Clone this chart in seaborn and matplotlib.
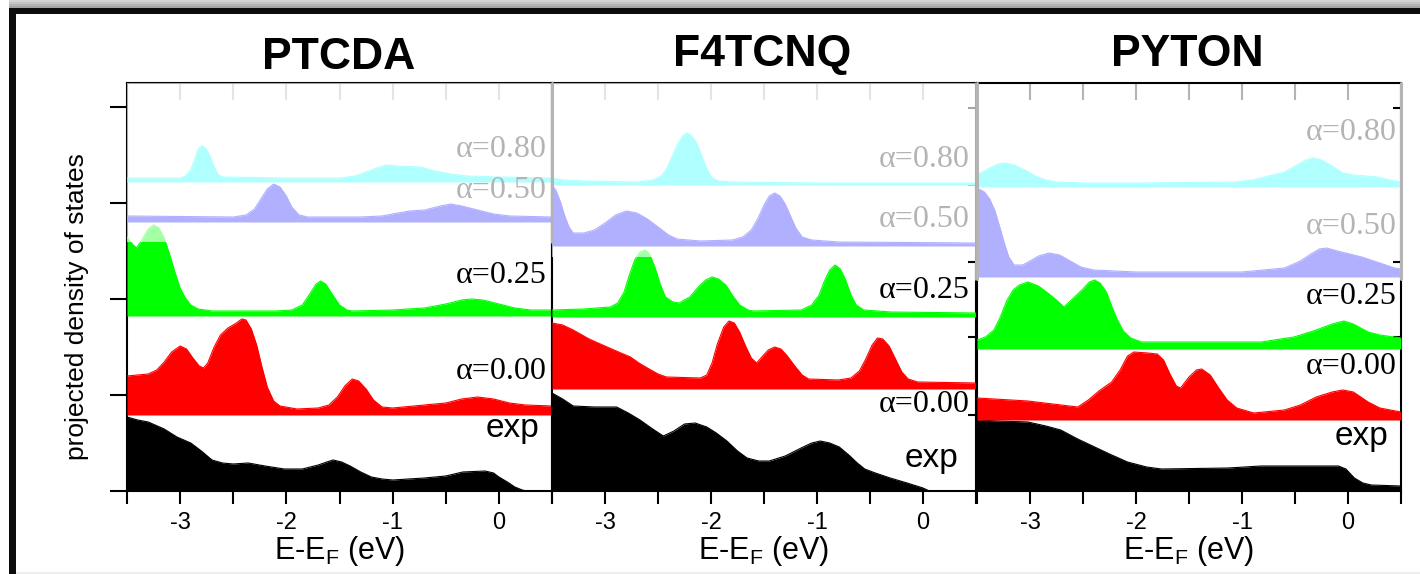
import numpy as np
import pandas as pd
import seaborn as sns
import matplotlib
matplotlib.use("Agg")
import matplotlib.pyplot as plt
from matplotlib.patches import Rectangle

# ---------------- data (energy E-E_F in eV, projected DOS in arb. units) ----------------
panels = ["PTCDA", "F4TCNQ", "PYTON"]
series_labels = ["exp", "α=0.00", "α=0.25", "α=0.50", "α=0.80"]
x_ticks = [-3, -2, -1, 0]
x_tick_labels = ["-3", "-2", "-1", "0"]

# PTCDA
ptcda_exp_e = [-3.5, -3.4, -3.3, -3.15, -3.03, -2.9, -2.8, -2.7, -2.6, -2.5, -2.36, -2.2, -2.02, -1.85, -1.7, -1.62, -1.56, -1.48, -1.4, -1.3, -1.2, -1.1, -1.0, -0.7, -0.5, -0.34, -0.13, -0.05, 0.0, 0.08, 0.15, 0.22, 0.26, 0.5]
ptcda_exp = [0.74, 0.71, 0.69, 0.62, 0.54, 0.48, 0.40, 0.31, 0.28, 0.27, 0.28, 0.25, 0.22, 0.22, 0.26, 0.29, 0.31, 0.29, 0.25, 0.19, 0.14, 0.12, 0.11, 0.13, 0.15, 0.19, 0.20, 0.18, 0.14, 0.09, 0.04, 0.01, 0.0, 0.0]
ptcda_a000_e = [-3.5, -3.3, -3.22, -3.15, -3.08, -3.0, -2.94, -2.88, -2.82, -2.78, -2.74, -2.68, -2.62, -2.55, -2.47, -2.42, -2.38, -2.33, -2.28, -2.23, -2.18, -2.12, -2.06, -1.9, -1.7, -1.6, -1.52, -1.45, -1.38, -1.32, -1.25, -1.18, -1.1, -1.0, -0.8, -0.5, -0.35, -0.2, -0.05, 0.1, 0.25, 0.5]
ptcda_a000 = [0.39, 0.41, 0.45, 0.53, 0.63, 0.69, 0.66, 0.57, 0.49, 0.47, 0.52, 0.68, 0.80, 0.87, 0.92, 0.96, 0.95, 0.86, 0.70, 0.48, 0.28, 0.14, 0.09, 0.06, 0.07, 0.10, 0.18, 0.29, 0.36, 0.34, 0.26, 0.15, 0.08, 0.07, 0.09, 0.12, 0.16, 0.18, 0.16, 0.12, 0.10, 0.09]
ptcda_a025_e = [-3.5, -3.45, -3.41, -3.36, -3.3, -3.25, -3.2, -3.15, -3.1, -3.05, -3.0, -2.95, -2.9, -2.83, -2.7, -2.1, -1.95, -1.85, -1.78, -1.72, -1.68, -1.63, -1.57, -1.5, -1.43, -1.38, -1.0, -0.7, -0.5, -0.35, -0.26, -0.15, 0.0, 0.15, 0.3, 0.5]
ptcda_a025 = [0.79, 0.72, 0.68, 0.76, 0.87, 0.91, 0.88, 0.78, 0.62, 0.44, 0.28, 0.18, 0.11, 0.07, 0.05, 0.05, 0.06, 0.11, 0.22, 0.32, 0.35, 0.32, 0.22, 0.11, 0.06, 0.05, 0.06, 0.08, 0.12, 0.16, 0.17, 0.16, 0.12, 0.08, 0.06, 0.06]
ptcda_a050_e = [-3.5, -2.5, -2.38, -2.3, -2.24, -2.18, -2.12, -2.06, -2.0, -1.95, -1.88, -1.8, -1.3, -1.1, -0.95, -0.84, -0.7, -0.55, -0.45, -0.35, -0.2, -0.05, 0.1, 0.5]
ptcda_a050 = [0.06, 0.05, 0.07, 0.13, 0.23, 0.33, 0.38, 0.35, 0.26, 0.15, 0.07, 0.05, 0.05, 0.06, 0.09, 0.11, 0.12, 0.16, 0.18, 0.16, 0.12, 0.08, 0.06, 0.05]
ptcda_a080_e = [-3.5, -3.0, -2.95, -2.9, -2.86, -2.83, -2.8, -2.76, -2.72, -2.68, -2.64, -2.6, -2.0, -1.5, -1.35, -1.25, -1.15, -1.06, -0.95, -0.74, -0.6, -0.45, -0.3, 0.0, 0.5]
ptcda_a080 = [0.04, 0.04, 0.06, 0.12, 0.24, 0.33, 0.36, 0.34, 0.26, 0.15, 0.07, 0.05, 0.04, 0.04, 0.06, 0.10, 0.14, 0.17, 0.16, 0.15, 0.11, 0.08, 0.06, 0.05, 0.04]

# F4TCNQ
f4tcnq_exp_e = [-3.5, -3.4, -3.3, -3.1, -2.89, -2.78, -2.67, -2.55, -2.45, -2.35, -2.25, -2.15, -2.04, -1.95, -1.85, -1.75, -1.66, -1.55, -1.45, -1.3, -1.15, -1.05, -0.97, -0.88, -0.79, -0.7, -0.62, -0.55, -0.45, -0.31, -0.15, 0.0, 0.06, 0.5]
f4tcnq_exp = [0.98, 0.92, 0.85, 0.84, 0.84, 0.78, 0.71, 0.62, 0.55, 0.60, 0.67, 0.68, 0.64, 0.58, 0.50, 0.40, 0.33, 0.30, 0.30, 0.35, 0.43, 0.48, 0.50, 0.48, 0.44, 0.36, 0.28, 0.22, 0.18, 0.13, 0.08, 0.03, 0.0, 0.0]
f4tcnq_a000_e = [-3.5, -3.4, -3.3, -3.15, -2.98, -2.85, -2.76, -2.68, -2.6, -2.5, -2.42, -2.1, -2.04, -1.99, -1.94, -1.88, -1.83, -1.78, -1.73, -1.67, -1.62, -1.57, -1.52, -1.46, -1.4, -1.34, -1.28, -1.21, -1.14, -1.08, -0.8, -0.68, -0.6, -0.54, -0.48, -0.43, -0.38, -0.32, -0.26, -0.2, -0.14, -0.05, 0.5]
f4tcnq_a000 = [0.66, 0.64, 0.59, 0.50, 0.42, 0.36, 0.32, 0.26, 0.21, 0.15, 0.12, 0.11, 0.14, 0.26, 0.45, 0.62, 0.68, 0.66, 0.57, 0.42, 0.31, 0.26, 0.32, 0.39, 0.42, 0.40, 0.33, 0.23, 0.14, 0.10, 0.09, 0.11, 0.18, 0.30, 0.44, 0.51, 0.50, 0.43, 0.30, 0.17, 0.10, 0.07, 0.06]
f4tcnq_a025_e = [-3.5, -3.2, -2.95, -2.88, -2.82, -2.77, -2.72, -2.67, -2.62, -2.58, -2.53, -2.48, -2.43, -2.36, -2.3, -2.2, -2.12, -2.05, -1.99, -1.93, -1.86, -1.8, -1.73, -1.65, -1.6, -1.15, -1.05, -0.98, -0.93, -0.88, -0.83, -0.78, -0.73, -0.68, -0.63, -0.56, -0.3, 0.5]
f4tcnq_a025 = [0.07, 0.08, 0.10, 0.14, 0.25, 0.42, 0.57, 0.65, 0.67, 0.63, 0.50, 0.33, 0.20, 0.15, 0.14, 0.20, 0.30, 0.37, 0.40, 0.38, 0.32, 0.22, 0.12, 0.07, 0.06, 0.07, 0.12, 0.22, 0.36, 0.47, 0.52, 0.48, 0.37, 0.22, 0.12, 0.07, 0.05, 0.04]
f4tcnq_a050_e = [-3.5, -3.46, -3.42, -3.38, -3.34, -3.3, -3.2, -3.1, -3.0, -2.9, -2.8, -2.7, -2.6, -2.5, -2.4, -2.32, -2.1, -1.8, -1.7, -1.62, -1.56, -1.5, -1.45, -1.4, -1.35, -1.3, -1.25, -1.2, -1.14, -1.05, -0.8, 0.5]
f4tcnq_a050 = [0.61, 0.55, 0.44, 0.30, 0.19, 0.13, 0.13, 0.16, 0.23, 0.31, 0.35, 0.33, 0.27, 0.19, 0.11, 0.07, 0.05, 0.06, 0.09, 0.16, 0.27, 0.41, 0.50, 0.53, 0.50, 0.42, 0.30, 0.18, 0.09, 0.06, 0.04, 0.03]
f4tcnq_a080_e = [-3.5, -3.4, -3.2, -2.7, -2.55, -2.47, -2.42, -2.37, -2.32, -2.27, -2.23, -2.19, -2.14, -2.09, -2.04, -1.99, -1.93, -1.8, -1.0, 0.5]
f4tcnq_a080 = [0.07, 0.05, 0.04, 0.03, 0.05, 0.09, 0.16, 0.28, 0.40, 0.49, 0.52, 0.50, 0.43, 0.30, 0.16, 0.07, 0.04, 0.03, 0.02, 0.02]

# PYTON
pyton_exp_e = [-3.5, -3.3, -3.02, -2.85, -2.71, -2.55, -2.39, -2.25, -2.08, -1.9, -1.76, -1.13, -0.82, -0.09, -0.02, 0.06, 0.14, 0.22, 0.5]
pyton_exp = [0.71, 0.70, 0.69, 0.65, 0.61, 0.52, 0.44, 0.37, 0.29, 0.24, 0.22, 0.23, 0.25, 0.25, 0.22, 0.13, 0.08, 0.06, 0.05]
pyton_a000_e = [-3.5, -3.02, -2.55, -2.45, -2.35, -2.23, -2.15, -2.08, -2.02, -1.89, -1.8, -1.74, -1.68, -1.62, -1.58, -1.5, -1.43, -1.38, -1.3, -1.22, -1.14, -1.05, -0.89, -0.6, -0.45, -0.3, -0.15, -0.05, 0.05, 0.19, 0.3, 0.5]
pyton_a000 = [0.22, 0.19, 0.13, 0.20, 0.29, 0.38, 0.50, 0.64, 0.68, 0.67, 0.66, 0.60, 0.46, 0.34, 0.32, 0.43, 0.50, 0.51, 0.45, 0.32, 0.20, 0.12, 0.07, 0.10, 0.15, 0.23, 0.28, 0.30, 0.28, 0.18, 0.12, 0.08]
pyton_a025_e = [-3.5, -3.42, -3.34, -3.28, -3.22, -3.16, -3.1, -3.02, -2.92, -2.82, -2.74, -2.68, -2.6, -2.5, -2.44, -2.39, -2.34, -2.28, -2.23, -2.18, -2.12, -2.05, -1.95, -0.82, -0.51, -0.3, -0.15, -0.04, 0.05, 0.19, 0.3, 0.5]
pyton_a025 = [0.09, 0.12, 0.19, 0.32, 0.48, 0.59, 0.64, 0.67, 0.63, 0.55, 0.48, 0.42, 0.50, 0.60, 0.67, 0.69, 0.66, 0.57, 0.43, 0.30, 0.18, 0.11, 0.07, 0.07, 0.12, 0.19, 0.25, 0.28, 0.25, 0.17, 0.14, 0.11]
pyton_a050_e = [-3.5, -3.43, -3.38, -3.33, -3.28, -3.24, -3.2, -3.15, -3.07, -3.0, -2.92, -2.82, -2.72, -2.62, -2.52, -2.4, -2.0, -1.0, -0.6, -0.45, -0.35, -0.27, -0.2, -0.1, 0.13, 0.3, 0.44, 0.5]
pyton_a050 = [0.89, 0.85, 0.78, 0.66, 0.48, 0.33, 0.20, 0.12, 0.12, 0.16, 0.21, 0.24, 0.22, 0.16, 0.10, 0.07, 0.05, 0.05, 0.09, 0.16, 0.23, 0.28, 0.29, 0.26, 0.20, 0.14, 0.09, 0.08]
pyton_a080_e = [-3.5, -3.4, -3.3, -3.23, -3.15, -3.05, -2.95, -2.85, -2.75, -2.5, -1.98, -1.07, -0.9, -0.75, -0.6, -0.5, -0.4, -0.33, -0.25, -0.15, -0.05, 0.05, 0.28, 0.4, 0.5]
pyton_a080 = [0.12, 0.18, 0.23, 0.24, 0.22, 0.17, 0.11, 0.07, 0.05, 0.04, 0.04, 0.05, 0.07, 0.11, 0.15, 0.21, 0.27, 0.29, 0.27, 0.21, 0.14, 0.12, 0.10, 0.07, 0.05]

curves = {
    "PTCDA": [(ptcda_exp_e, ptcda_exp), (ptcda_a000_e, ptcda_a000), (ptcda_a025_e, ptcda_a025),
              (ptcda_a050_e, ptcda_a050), (ptcda_a080_e, ptcda_a080)],
    "F4TCNQ": [(f4tcnq_exp_e, f4tcnq_exp), (f4tcnq_a000_e, f4tcnq_a000), (f4tcnq_a025_e, f4tcnq_a025),
               (f4tcnq_a050_e, f4tcnq_a050), (f4tcnq_a080_e, f4tcnq_a080)],
    "PYTON": [(pyton_exp_e, pyton_exp), (pyton_a000_e, pyton_a000), (pyton_a025_e, pyton_a025),
              (pyton_a050_e, pyton_a050), (pyton_a080_e, pyton_a080)],
}

# ---------------- layout / style ----------------
W, H = 1420, 574
colors = ["#000000", "#ff0000", "#00ff00", "#b0b0ff", "#b0ffff"]
label_colors = ["#000000", "#000000", "#000000", "#b4b4b4", "#b4b4b4"]
offsets = {"PTCDA": [0.0, 0.76, 1.75, 2.69, 3.09],
           "F4TCNQ": [0.0, 1.02, 1.74, 2.45, 3.06],
           "PYTON": [0.0, 0.71, 1.42, 2.14, 3.04]}
label_y = {"PTCDA": [0.54, 1.12, 2.08, 2.93, 3.34],
           "F4TCNQ": [0.24, 0.79, 1.93, 2.64, 3.24],
           "PYTON": [0.46, 1.17, 1.87, 2.57, 3.51]}
label_x = {"PTCDA": [0.38, 0.45, 0.45, 0.45, 0.45],
           "F4TCNQ": [0.33, 0.44, 0.44, 0.44, 0.44],
           "PYTON": [0.38, 0.46, 0.46, 0.46, 0.46]}
axes_px = {"PTCDA": (127, 552), "F4TCNQ": (552, 976), "PYTON": (977, 1401)}
title_px = {"PTCDA": (339, 69), "F4TCNQ": (762, 66), "PYTON": (1187, 66)}
light_level = {"PTCDA": 2.49, "F4TCNQ": 2.34, "PYTON": None}
gray_from = {"PTCDA": (None, 0.61), "F4TCNQ": (0.61, 0.52), "PYTON": (0.52, 0.52)}
top_px, bot_px = 83, 491
YMAX = 4.08

sns.set_theme(style="ticks")
plt.rcParams["font.family"] = ["Liberation Sans", "DejaVu Sans"]
plt.rcParams["text.color"] = "black"
plt.rcParams["axes.labelcolor"] = "black"
plt.rcParams["xtick.labelcolor"] = "black"
plt.rcParams["ytick.labelcolor"] = "black"

fig = plt.figure(figsize=(W / 100, H / 100), dpi=100)
fig.patch.set_facecolor("white")

def fx(px):
    return px / W

def fy(py):
    return (H - py) / H

# frame of the original screenshot
shade = ["#d4d4d4", "#c4c4c4", "#b4b4b4", "#a4a4a4"]
for i, c in enumerate(shade):
    fig.add_artist(Rectangle((fx(9), fy(2 * (i + 1))), 1, 2 / H, transform=fig.transFigure,
                             color=c, lw=0, zorder=0))
fig.add_artist(Rectangle((fx(9), fy(14)), 1, 6 / H, transform=fig.transFigure, color="#0c0c0c", lw=0))
fig.add_artist(Rectangle((fx(9), 0), 7 / W, fy(8), transform=fig.transFigure, color="#0c0c0c", lw=0))
fig.add_artist(Rectangle((fx(16), 0), 1, 2 / H, transform=fig.transFigure, color="#eeeeee", lw=0))

for p in panels:
    l, r = axes_px[p]
    ax = fig.add_axes([fx(l), fy(bot_px), (r - l) / W, (bot_px - top_px) / H])
    ax.set_facecolor("white")
    for k in range(5):
        e, v = curves[p][k]
        base = offsets[p][k]
        df = pd.DataFrame({"E": e, "y": np.asarray(v) + base})
        ax.fill_between(df["E"], base, df["y"], color=colors[k], lw=0, zorder=2 + k)
        sns.lineplot(data=df, x="E", y="y", ax=ax, color=colors[k], lw=0.8, zorder=2 + k, sort=False)
        if k == 2 and light_level[p] is not None:
            ax.axhspan(light_level[p], YMAX, color="white", alpha=0.65, lw=0, zorder=4.5)
        fam = ["Liberation Sans"] if k == 0 else ["Liberation Serif", "DejaVu Serif"]
        fs = 24 if k == 0 else 23
        ax.text(label_x[p][k], label_y[p][k], series_labels[k], ha="right", va="baseline",
                fontsize=fs, family=fam, color=label_colors[k], zorder=10)

    ax.set_xlim(-3.5, 0.5)
    ax.set_ylim(0, YMAX)
    ax.set_xticks(x_ticks)
    ax.set_xticks([-3.5, -2.5, -1.5, -0.5, 0.5], minor=True)
    ax.set_xticklabels(x_tick_labels, fontsize=17, color="black")
    ax.tick_params(axis="x", which="both", direction="out", length=9, width=1.5, color="black",
                   pad=6, top=False)
    ax.set_xlabel("E-E$_\\mathregular{F}$ (eV)", fontsize=22, labelpad=0, color="black")
    ax.set_ylabel("")
    for s in ax.spines.values():
        s.set_color("black")
        s.set_linewidth(1.5)

    # top gray inward ticks
    sec = ax.secondary_xaxis("top")
    sec.set_xticks([-3, -2.5, -2, -1.5, -1, -0.5, 0])
    sec.tick_params(direction="in", length=12, width=1.5, color="#b4b4b4", labeltop=False)
    sec.spines["top"].set_visible(False)

    if p == "PTCDA":
        ax.set_yticks([0, 0.96, 1.92, 2.88, 3.84])
        ax.set_yticklabels([])
        ax.tick_params(axis="y", direction="out", length=12, width=1.5, color="black", left=True)
        ax.set_ylabel("projected density of states", fontsize=19, color="black")
        ax.yaxis.set_label_coords(-0.09, 0.453)
    else:
        ax.set_yticks([])
        secy = ax.secondary_yaxis("right")
        secy.set_yticks([0.76, 1.54, 2.29, 3.06, 3.83])
        secy.tick_params(direction="in", length=6, width=1.5, color="black", labelright=False)
        secy.spines["right"].set_visible(False)

    # gray upper parts of side spines
    gl, gr = gray_from[p]
    if gl is not None:
        ax.plot([0, 0], [gl, 1], transform=ax.transAxes, color="#b4b4b4", lw=2.2, clip_on=False, zorder=20)
    if gr is not None:
        ax.plot([1, 1], [gr, 1], transform=ax.transAxes, color="#b4b4b4", lw=2.2, clip_on=False, zorder=20)

    tx, ty = title_px[p]
    fig.text(fx(tx), fy(ty), p, ha="center", va="baseline", fontsize=32, fontweight="bold",
             color="black")

fig.savefig("out.png", dpi=100)
